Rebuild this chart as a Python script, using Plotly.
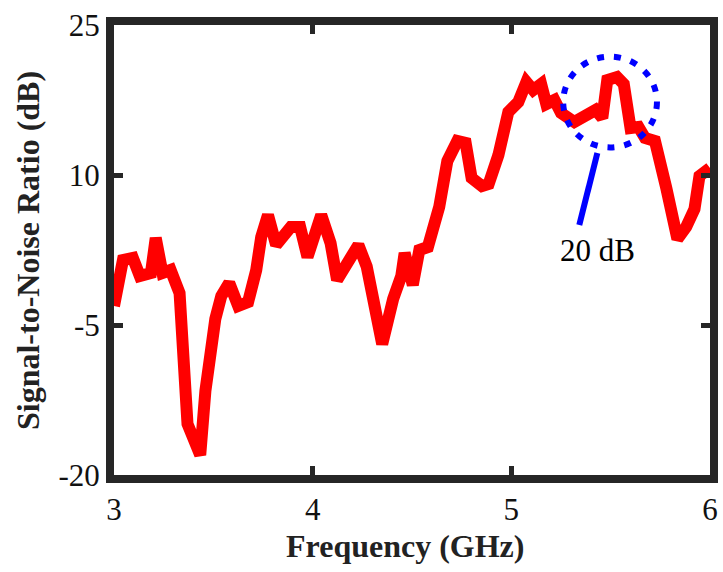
import plotly.graph_objects as go

freq_ghz = [3.0, 3.045, 3.095, 3.13, 3.186, 3.21, 3.244, 3.285, 3.33, 3.37, 3.434, 3.46,
            3.51, 3.54, 3.58, 3.625, 3.675, 3.716, 3.741, 3.775, 3.816, 3.89, 3.937, 3.974,
            4.043, 4.09, 4.123, 4.23, 4.272, 4.35, 4.405, 4.446, 4.463, 4.504, 4.537, 4.58,
            4.637, 4.678, 4.728, 4.77, 4.80, 4.852, 4.886, 4.935, 4.985, 5.035, 5.076, 5.11,
            5.15, 5.176, 5.217, 5.25, 5.317, 5.375, 5.424, 5.458, 5.483, 5.532, 5.566, 5.6,
            5.64, 5.673, 5.723, 5.78, 5.836, 5.88, 5.922, 5.947, 6.0]
snr_db = [-3.1, 1.5, 1.7, -0.1, 0.2, 3.7, 0.2, 0.5, -1.8, -14.9, -18.0, -11.6,
          -4.4, -2.1, -0.8, -3.1, -2.7, 0.5, 3.8, 6.0, 3.0, 4.8, 4.8, 1.8,
          6.0, 3.2, -0.5, 3.0, 0.85, -6.9, -2.4, -0.1, 2.2, -1.0, 2.5, 2.8,
          6.8, 11.4, 13.4, 13.2, 9.7, 8.9, 9.1, 12.0, 16.3, 17.3, 19.3, 18.5,
          19.1, 17.1, 17.5, 16.2, 15.3, 16.0, 16.5, 15.7, 19.5, 19.8, 19.1, 14.7,
          14.8, 13.7, 13.4, 8.7, 3.6, 4.8, 6.6, 9.9, 10.7]

x_ticks = [3, 4, 5, 6]
y_ticks = [-20, -5, 10, 25]
x_title = "Frequency (GHz)"
y_title = "Signal-to-Noise Ratio (dB)"

# annotation: circle around peak, pointer line and label
circle_center = (5.497, 17.3)
circle_radius = (0.236, 4.54)
pointer_start = (5.433, 12.2)
pointer_end = (5.342, 5.0)
label_text = "20 dB"
label_pos = (5.433, 2.5)

FONT = "Liberation Serif, Times New Roman, serif"
FRAME = "#262626"
W, H = 723, 572
M = dict(l=114, r=13, t=25, b=97)

fig = go.Figure()
fig.add_trace(go.Scatter(x=freq_ghz, y=snr_db, mode="lines",
                         line=dict(color="#ff0000", width=12), showlegend=False))

fig.add_shape(type="circle", xref="x", yref="y",
              x0=circle_center[0] - circle_radius[0], x1=circle_center[0] + circle_radius[0],
              y0=circle_center[1] - circle_radius[1], y1=circle_center[1] + circle_radius[1],
              line=dict(color="#0000ff", width=6, dash="7px,10px"))
fig.add_shape(type="line", xref="x", yref="y",
              x0=pointer_start[0], y0=pointer_start[1], x1=pointer_end[0], y1=pointer_end[1],
              line=dict(color="#0000ff", width=6))
fig.add_annotation(x=label_pos[0], y=label_pos[1], text=label_text, showarrow=False,
                   font=dict(family=FONT, size=31, color="black"))

# axis titles placed as annotations (paper coords)
pw = W - M["l"] - M["r"]
ph = H - M["t"] - M["b"]
fig.add_annotation(x=(405 - M["l"]) / pw, y=-(546 - (H - M["b"])) / ph, xref="paper", yref="paper",
                   text=x_title, showarrow=False, xanchor="center", yanchor="middle",
                   font=dict(family=FONT, size=32, color="#222222", weight="bold"))
fig.add_annotation(x=-(M["l"] - 28) / pw, y=(H - M["b"] - 251) / ph, xref="paper", yref="paper",
                   text=y_title, showarrow=False, xanchor="center", yanchor="middle", textangle=-90,
                   font=dict(family=FONT, size=32, color="#222222", weight="bold"))

axis_common = dict(showline=True, linecolor=FRAME, linewidth=8, mirror="ticks",
                   ticks="inside", ticklen=9, tickwidth=5, tickcolor=FRAME,
                   showgrid=False, zeroline=False, automargin=False,
                   tickfont=dict(family=FONT, size=31, color="#111111"))

fig.update_xaxes(range=[3, 6], tickvals=x_ticks, ticktext=[str(v) for v in x_ticks], **axis_common)
fig.update_yaxes(range=[-20, 25], tickvals=y_ticks, ticktext=[str(v) for v in y_ticks], **axis_common)

fig.update_layout(width=W, height=H, margin=M, plot_bgcolor="white", paper_bgcolor="white")

fig.write_html("out.html", config={"displayModeBar": False},
               post_script="document.body.style.margin='0';document.body.style.overflow='hidden';")
